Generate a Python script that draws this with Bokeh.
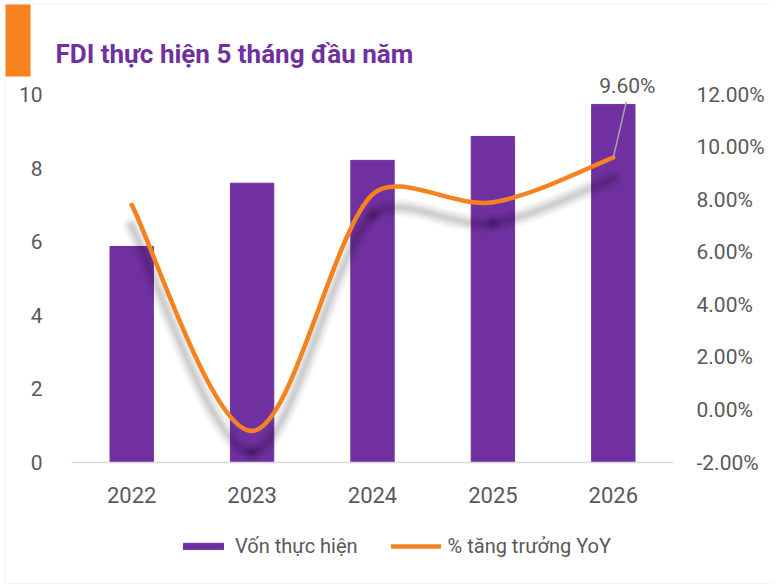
import math
from bokeh.plotting import figure
from bokeh.models import (Range1d, LinearAxis, FixedTicker, PrintfTickFormatter,
                          Legend, LegendItem, ColumnDataSource, Label, BoxAnnotation)
from bokeh.core.properties import value
from bokeh.embed import file_html
from bokeh.resources import INLINE

# ---- data ----
years = ["2022", "2023", "2024", "2025", "2026"]
von_thuc_hien = [5.87, 7.59, 8.21, 8.86, 9.73]
tang_truong_pct = [7.8, -0.8, 8.2, 7.9, 9.6]
left_ticks = [0, 2, 4, 6, 8, 10]
right_ticks = [-2, 0, 2, 4, 6, 8, 10, 12]
title_text = "FDI thực hiện 5 tháng đầu năm"
legend_labels = ["Vốn thực hiện", "% tăng trưởng YoY"]
last_label = "9.60%"

# ---- style / layout (pixels) ----
PURPLE = "#7030A0"
ORANGE = "#F5821F"
GRAY_TXT = "#595959"
FONT = "Roboto"
W, H = 772, 584
PLOT_L, PLOT_R = 71, 673        # category area
AXIS_TOP, AXIS_BOT = 94, 462    # top tick / zero line

left_lo, left_hi = 0, 10
pct_lo, pct_hi = -2, 12
n = len(years)
px_per_x = (PLOT_R - PLOT_L) / n
px_per_left = (AXIS_BOT - AXIS_TOP) / (left_hi - left_lo)
px_per_pct = (AXIS_BOT - AXIS_TOP) / (pct_hi - pct_lo)
shadow_px = 21

def yrange(lo, hi, ppu, shift_px=0):
    return Range1d(lo - (H - AXIS_BOT - shift_px) / ppu, hi + (AXIS_TOP + shift_px) / ppu)

xs = list(range(n))

p = figure(width=W, height=H, output_backend="svg", toolbar_location=None,
           x_range=Range1d(-0.5 - PLOT_L / px_per_x, n - 0.5 + (W - PLOT_R) / px_per_x),
           y_range=yrange(left_lo, left_hi, px_per_left))
p.min_border = 0
p.min_border_left = 0
p.min_border_right = 0
p.min_border_top = 0
p.min_border_bottom = 0
p.outline_line_color = None
p.xgrid.visible = False
p.ygrid.visible = False
p.background_fill_color = "white"
p.border_fill_color = "white"

p.extra_y_ranges = {
    "pct": yrange(pct_lo, pct_hi, px_per_pct),
    "shadow": yrange(pct_lo, pct_hi, px_per_pct, shift_px=shadow_px),
}

# axes (fixed inside the frame)
def style_axis(ax, size="21px"):
    ax.major_tick_line_color = None
    ax.minor_tick_line_color = None
    ax.major_label_text_color = GRAY_TXT
    ax.major_label_text_font = FONT
    ax.major_label_text_font_size = size

xa = p.xaxis[0]
xa.ticker = FixedTicker(ticks=xs)
xa.major_label_overrides = {i: y for i, y in enumerate(years)}
style_axis(xa, "22px")
xa.axis_line_color = "#D9D9D9"
xa.axis_line_width = 1.5
xa.major_label_standoff = 18
xa.fixed_location = left_lo
xa.bounds = (-0.5, n - 0.5)

ya = p.yaxis[0]
ya.ticker = FixedTicker(ticks=left_ticks)
style_axis(ya)
ya.axis_line_color = None
ya.major_label_standoff = 23
ya.fixed_location = -0.5

ra = LinearAxis(y_range_name="pct", ticker=FixedTicker(ticks=right_ticks),
                formatter=PrintfTickFormatter(format="%.2f%%"))
style_axis(ra, "21px")
ra.axis_line_color = None
ra.major_label_standoff = 17
ra.fixed_location = n - 0.5
p.add_layout(ra, "right")

# bars
bars = p.vbar(x=xs, top=von_thuc_hien, width=0.36, fill_color=PURPLE, line_color=PURPLE)

# smooth (Excel-like) bezier segments computed from the data points
def bezier_ctrl(xv, yv):
    m = len(xv)
    X = [x * px_per_x for x in xv]
    Y = [y * px_per_pct for y in yv]

    def d(i, j):
        return math.hypot(X[j] - X[i], Y[j] - Y[i])

    segs = []
    for i in range(m - 1):
        im1 = max(i - 1, 0)
        ip2 = min(i + 2, m - 1)
        dp, dn = d(im1, i), d(i, i + 1)
        f1 = min((2.0 / 3.0) * dn / (dp + dn), 1 / 3) * 0.5 if dp + dn > 0 else 0
        c0x = X[i] + f1 * (X[i + 1] - X[im1])
        c0y = Y[i] + f1 * (Y[i + 1] - Y[im1])
        dp2, dn2 = d(i, i + 1), d(i + 1, ip2)
        f2 = min((2.0 / 3.0) * dp2 / (dp2 + dn2), 1 / 3) * 0.5 if dp2 + dn2 > 0 else 0
        c1x = X[i + 1] - f2 * (X[ip2] - X[i])
        c1y = Y[i + 1] - f2 * (Y[ip2] - Y[i])
        segs.append((xv[i], yv[i], xv[i + 1], yv[i + 1],
                     c0x / px_per_x, c0y / px_per_pct, c1x / px_per_x, c1y / px_per_pct))
    return segs

segs = bezier_ctrl(xs, tang_truong_pct)
src = ColumnDataSource(dict(
    x0=[s[0] for s in segs], y0=[s[1] for s in segs],
    x1=[s[2] for s in segs], y1=[s[3] for s in segs],
    cx0=[s[4] for s in segs], cy0=[s[5] for s in segs],
    cx1=[s[6] for s in segs], cy1=[s[7] for s in segs],
))

# soft shadow (stacked translucent strokes)
for lw, a in [(18, 0.035), (13, 0.05), (8, 0.06), (4, 0.05)]:
    p.bezier(x0="x0", y0="y0", x1="x1", y1="y1", cx0="cx0", cy0="cy0", cx1="cx1", cy1="cy1",
             source=src, y_range_name="shadow", line_color="black", line_alpha=a,
             line_width=lw, line_cap="round")

line_r = p.bezier(x0="x0", y0="y0", x1="x1", y1="y1", cx0="cx0", cy0="cy0", cx1="cx1", cy1="cy1",
                  source=src, y_range_name="pct", line_color=ORANGE, line_width=4.5,
                  line_cap="round")

# data label with leader line for the last point
lx, ly = xs[-1], tang_truong_pct[-1]
p.segment(x0=[lx], y0=[ly], x1=[lx + 13 / px_per_x], y1=[ly + 56 / px_per_pct],
          y_range_name="pct", line_color="#A6A6A6", line_width=1.5)
p.text(x=[lx], y=[ly], text=[last_label], y_range_name="pct",
       x_offset=14, y_offset=-72, text_align="center", text_baseline="middle",
       text_font=value(FONT), text_font_size="21px", text_color=GRAY_TXT)

# legend
leg = Legend(items=[LegendItem(label=legend_labels[0], renderers=[bars]),
                    LegendItem(label=legend_labels[1], renderers=[line_r])],
             orientation="horizontal", location=(178, H - 558),
             glyph_width=50, glyph_height=8, label_standoff=7, spacing=33, padding=0,
             margin=0, border_line_color=None, background_fill_alpha=0,
             label_text_font=FONT, label_text_font_size="20px", label_text_color=GRAY_TXT,
             label_height=20)
p.add_layout(leg, "center")

# title, orange tab, thin frame
p.add_layout(Label(x=55, y=H - 53, x_units="screen", y_units="screen",
                   text=title_text, text_font=FONT, text_font_size="26px",
                   text_font_style="bold", text_color=PURPLE, text_baseline="alphabetic"))
p.add_layout(BoxAnnotation(left=5, right=30, top=H - 4, bottom=H - 76,
                           left_units="screen", right_units="screen",
                           top_units="screen", bottom_units="screen",
                           fill_color=ORANGE, fill_alpha=1, line_color=None, level="overlay"))
p.add_layout(BoxAnnotation(left=5, right=W + 20, top=H - 3, bottom=1,
                           left_units="screen", right_units="screen",
                           top_units="screen", bottom_units="screen",
                           fill_alpha=0, line_color="#D9D9D9", line_width=1, level="underlay"))

open("out.html", "w").write(file_html(p, INLINE))
